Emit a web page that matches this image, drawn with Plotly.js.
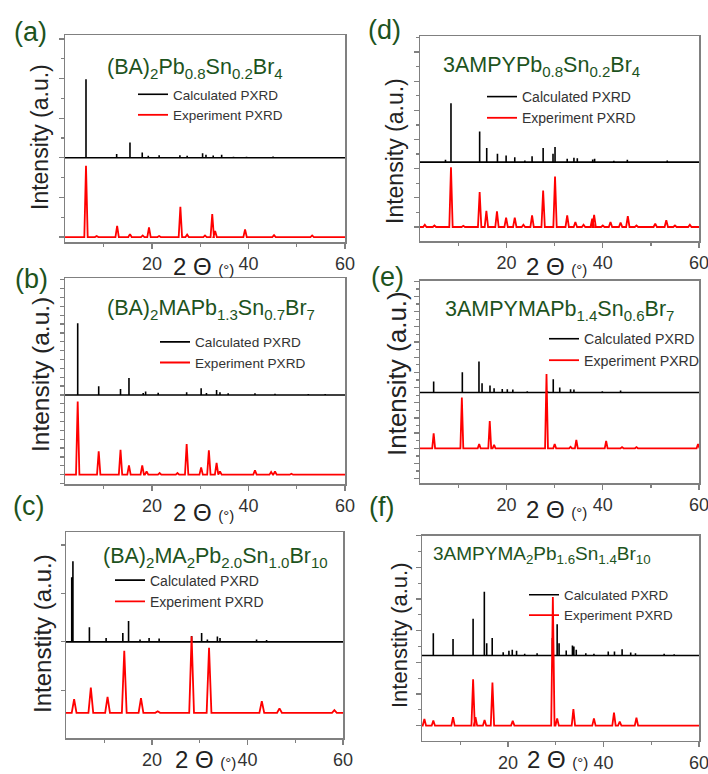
<!DOCTYPE html>
<html><head><meta charset="utf-8">
<script src="https://cdn.plot.ly/plotly-3.0.1.min.js"></script>
<style>body{margin:0;background:#fff}#chart{width:708px;height:774px}</style>
</head><body><div id="chart"></div>
<script>
// ---- data: peak positions (2θ, degrees) and relative intensities ----
const aCalcPos = [6.35, 12.7, 15.46, 18.0, 19.25, 21.5, 25.8, 27.3, 30.5, 31.2, 32.7, 34.45, 36.9, 39.6, 45.1, 50.3];
const aCalcInt = [3.97, 0.19, 0.77, 0.27, 0.1, 0.13, 0.13, 0.1, 0.23, 0.15, 0.12, 0.15, 0.05, 0.05, 0.07, 0.03];
const aExpPos = [6.35, 8.56, 12.8, 15.46, 18.1, 19.4, 21.5, 25.9, 27.3, 31.0, 32.5, 33.1, 39.3, 45.3, 53.2];
const aExpInt = [3.6, 0.05, 0.56, 0.15, 0.08, 0.49, 0.05, 1.53, 0.12, 0.08, 1.16, 0.3, 0.39, 0.1, 0.08];

const bCalcPos = [4.63, 8.98, 13.5, 15.25, 18.2, 18.7, 21.3, 27.2, 30.2, 31.3, 33.4, 34.1, 35.8, 41.35, 45.5, 52.4, 55.9];
const bCalcInt = [8.1, 0.98, 0.68, 1.92, 0.23, 0.38, 0.26, 0.3, 0.75, 0.23, 0.56, 0.3, 0.19, 0.19, 0.15, 0.11, 0.11];
const bExpPos = [4.63, 8.98, 13.5, 15.25, 18.0, 18.9, 21.6, 25.3, 27.2, 30.2, 31.8, 33.4, 34.1, 41.35, 44.7, 45.5, 48.9];
const bExpInt = [8.27, 2.63, 2.82, 1.05, 1.05, 0.38, 0.19, 0.19, 3.46, 0.83, 2.74, 1.32, 0.38, 0.49, 0.3, 0.38, 0.11];

const cCalcPos = [3.2, 3.45, 6.9, 10.4, 13.9, 15.1, 17.5, 19.4, 21.5, 28.3, 30.4, 31.6, 33.7, 34.25, 41.9, 44.0];
const cCalcInt = [1.33, 1.66, 0.3, 0.08, 0.18, 0.43, 0.05, 0.08, 0.07, 0.12, 0.18, 0.05, 0.11, 0.08, 0.05, 0.04];
const cExpPos = [3.7, 7.2, 10.7, 14.2, 17.7, 21.2, 28.3, 31.95, 43.0, 46.7, 58.2];
const cExpInt = [0.28, 0.52, 0.33, 1.28, 0.3, 0.03, 1.58, 1.34, 0.24, 0.09, 0.055];

const dCalcPos = [7.3, 8.44, 14.4, 15.87, 18.1, 19.9, 21.7, 23.8, 25.3, 27.6, 29.65, 30.07, 32.6, 34.0, 34.7, 37.9, 38.3, 42.3, 45.1, 53.4];
const dCalcInt = [0.16, 4.04, 2.1, 0.96, 0.57, 0.46, 0.34, 0.11, 0.41, 0.96, 0.57, 1.03, 0.23, 0.3, 0.27, 0.18, 0.23, 0.09, 0.16, 0.11];
const dExpPos = [3.0, 5.0, 8.44, 11.0, 14.4, 15.8, 18.0, 19.9, 21.7, 23.5, 25.3, 27.6, 30.07, 32.6, 34.3, 36.0, 37.8, 38.2, 40.0, 41.6, 43.7, 45.2, 47.0, 50.9, 53.2, 55.0, 58.1];
const dExpInt = [0.15, 0.1, 4.1, 0.08, 2.4, 1.1, 1.07, 0.64, 0.64, 0.15, 0.8, 2.5, 3.47, 0.8, 0.34, 0.15, 0.57, 0.84, 0.1, 0.34, 0.3, 0.75, 0.1, 0.23, 0.46, 0.1, 0.16];

const eCalcPos = [4.84, 10.8, 14.26, 14.9, 16.55, 17.4, 19.1, 20.15, 21.3, 24.3, 28.5, 29.7, 31.05, 33.3, 34.0, 39.9, 43.7, 46.5, 51.7];
const eCalcInt = [1.45, 2.68, 4.08, 1.23, 0.92, 0.57, 0.48, 0.44, 0.39, 0.18, 0.22, 1.75, 0.66, 0.44, 0.39, 0.18, 0.26, 0.09, 0.09];
const eExpPos = [4.84, 10.7, 14.3, 16.5, 17.4, 28.3, 30.0, 33.3, 34.5, 40.7, 44.0, 47.0, 59.8];
const eExpInt = [1.97, 6.7, 0.57, 3.6, 0.44, 9.78, 0.57, 0.2, 1.1, 0.96, 0.15, 0.15, 0.57];

const fCalcPos = [4.37, 8.5, 12.7, 15.05, 15.55, 16.7, 19.0, 20.2, 20.9, 21.8, 23.5, 26.1, 29.3, 30.3, 30.7, 32.2, 33.5, 33.8, 34.3, 36.3, 38.0, 41.0, 42.3, 43.9, 45.7, 46.7, 52.7, 54.8];
const fCalcInt = [1.41, 1.05, 2.32, 4.03, 0.78, 1.1, 0.21, 0.3, 0.36, 0.3, 0.11, 0.15, 1.1, 1.98, 0.78, 0.32, 0.63, 0.57, 0.36, 0.15, 0.11, 0.25, 0.25, 0.4, 0.19, 0.15, 0.11, 0.08];
const fExpPos = [2.5, 4.37, 8.5, 12.7, 13.2, 15.1, 16.75, 21.0, 29.4, 30.3, 33.7, 38.0, 42.2, 43.4, 46.9];
const fExpInt = [0.42, 0.32, 0.53, 2.93, 0.53, 0.36, 2.72, 0.3, 8.12, 0.46, 1.05, 0.46, 0.82, 0.25, 0.5];

const panelLetters = ['(a)', '(b)', '(c)', '(d)', '(e)', '(f)'];
const compounds = [
  '(BA)<sub>2</sub>Pb<sub>0.8</sub>Sn<sub>0.2</sub>Br<sub>4</sub>',
  '(BA)<sub>2</sub>MAPb<sub>1.3</sub>Sn<sub>0.7</sub>Br<sub>7</sub>',
  '(BA)<sub>2</sub>MA<sub>2</sub>Pb<sub>2.0</sub>Sn<sub>1.0</sub>Br<sub>10</sub>',
  '3AMPYPb<sub>0.8</sub>Sn<sub>0.2</sub>Br<sub>4</sub>',
  '3AMPYMAPb<sub>1.4</sub>Sn<sub>0.6</sub>Br<sub>7</sub>',
  '3AMPYMA<sub>2</sub>Pb<sub>1.6</sub>Sn<sub>1.4</sub>Br<sub>10</sub>'
];
const yTitles = ['Intensity (a.u.)', 'Intensity (a.u.)', 'Intenstity (a.u.)', 'Intensity (a.u.)', 'Intensity (a.u.)', 'Intenstity (a.u.)'];
const seriesNames = ['Calculated PXRD', 'Experiment PXRD'];
const xTitle = '2 Θ <span style="font-size:15px">(°)</span>';
const xTickVals = [20, 40, 60];

// ---- layout / style (pixels of the 708x774 page) ----
const W = 708, H = 774;
const px = v => v / W, py = v => 1 - v / H;
const FONT = 'Liberation Sans, Arial, sans-serif';
const GREEN = '#1d531d';
const AX = '#808080';
const XMIN = 2, XMAX = 60;

const panels = [
  {calc:[aCalcPos,aCalcInt], exp:[aExpPos,aExpInt], off:4, box:[65,345,35,242], yr:[-0.25,10.2], t0:0, dt:2, minor:1, w:0.35,
   lab:[30,32,27], ttl:[195,68,21.5], yt:[40,137,23], xt:[203,267], leg:[133,79,13.5]},
  {calc:[bCalcPos,bCalcInt], exp:[bExpPos,bExpInt], off:9, box:[65,345,278,484], yr:[-1.05,22.2], t0:0, dt:1, minor:0, w:0.35,
   lab:[31,279,27], ttl:[211,309,21.5], yt:[40,375,24.5], xt:[203,512], leg:[155,326.5,13.6]},
  {calc:[cCalcPos,cCalcInt], exp:[cExpPos,cExpInt], off:1.464, box:[66,343,532,738], yr:[-0.52,3.73], t0:0.464, dt:1, minor:0, w:0.5,
   lab:[29,506,27], ttl:[215,557,21.5], yt:[42,634,24], xt:[205,759], leg:[110,564.5,14]},
  {calc:[dCalcPos,dCalcInt], exp:[dExpPos,dExpInt], off:4.45, box:[420,699,36,241], yr:[-0.96,13.1], t0:0, dt:2, minor:1, w:0.35,
   lab:[385,30,27], ttl:[541,67,21.5], yt:[395,151,23], xt:[556,267], leg:[482,81,14]},
  {calc:[eCalcPos,eCalcInt], exp:[eExpPos,eExpInt], off:7.34, box:[420,699,280.5,483], yr:[-4.57,22.1], t0:0, dt:2, minor:1, w:0.3,
   lab:[387,277,27], ttl:[559,310,21.5], yt:[397,374,26], xt:[556,510], leg:[544,323,14.2]},
  {calc:[fCalcPos,fCalcInt], exp:[fExpPos,fExpInt], off:4.43, box:[422,699,535.7,740.7], yr:[-0.95,12.0], t0:0, dt:2, minor:1, w:0.35,
   lab:[381,507,27], ttl:[542,555,19], yt:[399,635,22], xt:[557,759], leg:[524,579.5,13.4]}
];

function sticks(pos, ints, off) {
  const x = [XMIN], y = [off];
  pos.forEach((p, i) => { x.push(p, p, p); y.push(off, off + ints[i], off); });
  x.push(XMAX); y.push(off);
  return {x, y};
}
function profile(pos, ints, w) {
  const x = [XMIN], y = [0];
  pos.forEach((p, i) => { x.push(p - w, p, p + w); y.push(0, ints[i], 0); });
  x.push(XMAX); y.push(0);
  return {x, y};
}

const traces = [], annotations = [], layout = {
  width: W, height: H, margin: {l:0, r:0, t:0, b:0},
  paper_bgcolor: '#fff', plot_bgcolor: '#fff',
  font: {family: FONT, color: '#333'},
  annotations
};

panels.forEach((p, i) => {
  const n = i + 1, sfx = n === 1 ? '' : String(n), legKey = n === 1 ? 'legend' : 'legend' + n;
  const c = sticks(p.calc[0], p.calc[1], p.off);
  const e = profile(p.exp[0], p.exp[1], p.w);
  traces.push({x: c.x, y: c.y, type: 'scatter', mode: 'lines', name: seriesNames[0],
    line: {color: '#000', width: 1.6}, xaxis: 'x' + sfx, yaxis: 'y' + sfx, legend: legKey, hoverinfo: 'skip'});
  traces.push({x: e.x, y: e.y, type: 'scatter', mode: 'lines', name: seriesNames[1],
    line: {color: '#ff0000', width: 1.8}, xaxis: 'x' + sfx, yaxis: 'y' + sfx, legend: legKey, hoverinfo: 'skip'});

  const [l, r, t, b] = p.box;
  layout['xaxis' + sfx] = {
    domain: [px(l), px(r)], range: [XMIN, XMAX], anchor: 'y' + sfx,
    tickmode: 'array', tickvals: xTickVals, ticks: 'outside', ticklen: 5, tickwidth: 1.3, tickcolor: AX,
    minor: {tickmode: 'linear', tick0: 0, dtick: 10, ticks: 'outside', ticklen: 3, tickcolor: AX, showgrid: false},
    showline: true, mirror: true, linecolor: AX, linewidth: 1.5, ticklabeloverflow: 'allow',
    showgrid: false, zeroline: false, tickfont: {size: 18, color: '#333', family: FONT}
  };
  const ya = {
    domain: [py(b), py(t)], range: p.yr, anchor: 'x' + sfx,
    tickmode: 'linear', tick0: p.t0, dtick: p.dt, ticks: 'outside', ticklen: p.minor ? 5 : 4, tickwidth: 1.3, tickcolor: AX,
    showticklabels: false, showline: true, mirror: true, linecolor: AX, linewidth: 1.5,
    showgrid: false, zeroline: false
  };
  if (p.minor) ya.minor = {tickmode: 'linear', tick0: p.t0, dtick: p.minor, ticks: 'outside', ticklen: 3, tickcolor: AX, showgrid: false};
  layout['yaxis' + sfx] = ya;

  layout[legKey] = {
    x: px(p.leg[0]), y: py(p.leg[1]), xanchor: 'left', yanchor: 'top',
    bgcolor: 'rgba(0,0,0,0)', borderwidth: 0,
    font: {family: FONT, size: p.leg[2], color: '#333'}
  };

  annotations.push({text: panelLetters[i], x: px(p.lab[0]), y: py(p.lab[1]), xref: 'paper', yref: 'paper',
    showarrow: false, xanchor: 'center', yanchor: 'middle', font: {family: FONT, size: p.lab[2], color: GREEN}});
  annotations.push({text: compounds[i], x: px(p.ttl[0]), y: py(p.ttl[1]), xref: 'paper', yref: 'paper',
    showarrow: false, xanchor: 'center', yanchor: 'middle', font: {family: FONT, size: p.ttl[2], color: GREEN}});
  annotations.push({text: yTitles[i], x: px(p.yt[0]), y: py(p.yt[1]), xref: 'paper', yref: 'paper', textangle: -90,
    showarrow: false, xanchor: 'center', yanchor: 'middle', font: {family: FONT, size: p.yt[2], color: '#222'}});
  annotations.push({text: xTitle, x: px(p.xt[0]), y: py(p.xt[1]), xref: 'paper', yref: 'paper', borderpad: 0,
    showarrow: false, xanchor: 'center', yanchor: 'middle', font: {family: FONT, size: 24, color: '#222'}});
});

Plotly.newPlot('chart', traces, layout, {staticPlot: true, displayModeBar: false});
</script>
</body></html>
